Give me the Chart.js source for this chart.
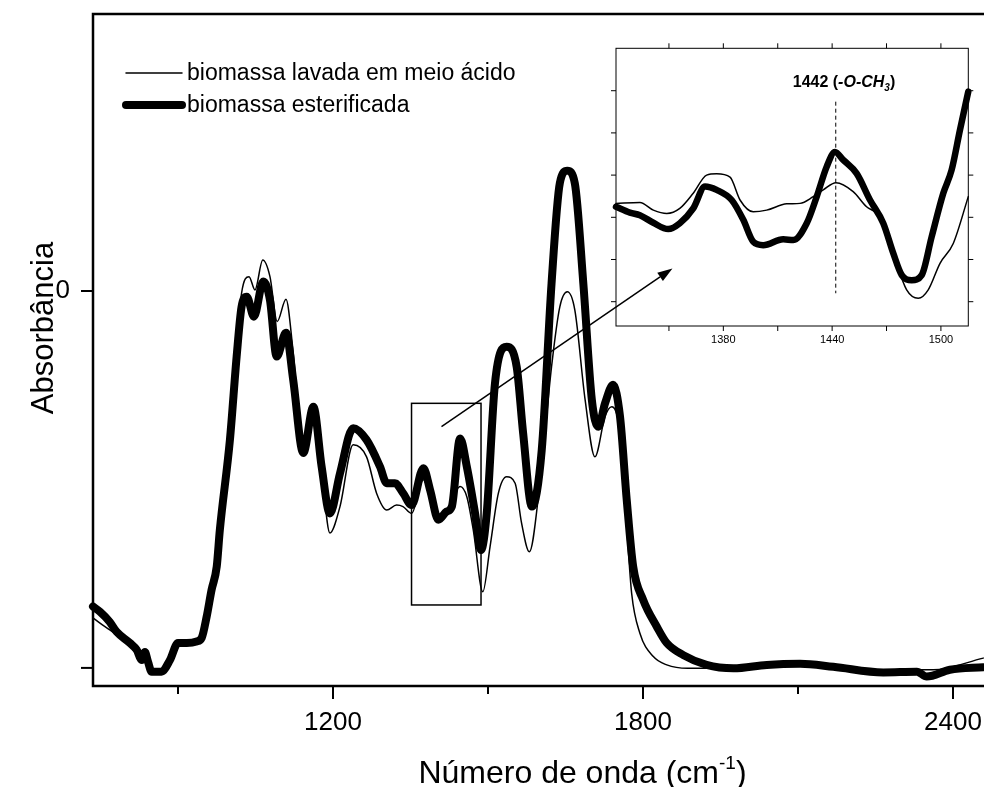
<!DOCTYPE html>
<html>
<head>
<meta charset="utf-8">
<script src="https://cdn.jsdelivr.net/npm/chart.js@4.4.1/dist/chart.umd.min.js"></script>
<style>
  html, body { margin: 0; padding: 0; background: #fff; overflow: hidden; }
  #wrap { position: relative; width: 984px; height: 787px; overflow: hidden; }
  #main { position: absolute; left: 0; top: 0; width: 1000px; height: 787px; }
  #inset { position: absolute; left: 600px; top: 30px; width: 384px; height: 320px; }
</style>
</head>
<body>
<div id="wrap">
  <canvas id="main" width="1000" height="787"></canvas>
  <canvas id="inset" width="384" height="320"></canvas>
</div>
<script>
// full spectra (wavenumber, absorbance)
const acidX = [735.5, 749, 768, 807, 830, 836, 842, 849, 868, 884.5, 900, 936, 946, 955.5, 965, 975, 981, 1000.5, 1013.5, 1023,
  1037.5, 1049, 1064, 1078, 1092, 1109, 1122.5, 1142.5, 1162, 1178, 1194, 1213.5, 1239, 1265, 1284.5, 1304, 1323, 1335.5, 1352, 1375,
  1401, 1420, 1446, 1459, 1471.5, 1490, 1504, 1520, 1536, 1552.5, 1565, 1580, 1600.5, 1623, 1639, 1653.5, 1668, 1688, 1707, 1726.5,
  1739.5, 1755.5, 1768.5, 1778, 1794, 1820, 1846, 1886.5, 1975, 2039.5, 2104, 2168.5, 2265, 2362, 2458.5];
const acidY = [-0.867, -0.881, -0.899, -0.939, -0.979, -0.966, -0.987, -1.010, -1.010, -0.979, -0.934, -0.930, -0.920, -0.864, -0.793, -0.731, -0.634, -0.395, -0.156, -0.006,
  0.038, 0.003, 0.082, 0.038, -0.081, -0.022, -0.156, -0.430, -0.307, -0.475, -0.642, -0.572, -0.408, -0.440, -0.537, -0.581, -0.568, -0.572, -0.590, -0.501,
  -0.607, -0.590, -0.519, -0.546, -0.634, -0.798, -0.678, -0.537, -0.493, -0.510, -0.616, -0.692, -0.510, -0.201, -0.042, -0.002, -0.050, -0.289, -0.440, -0.333,
  -0.307, -0.377, -0.625, -0.802, -0.908, -0.970, -0.992, -1.001, -1.001, -0.992, -0.989, -0.997, -1.005, -1.005, -0.974];

const esterX = [735.5, 749, 768, 781, 807, 820, 830, 836, 842, 849, 868, 884.5, 900, 917, 936, 946, 955.5, 965, 975, 981,
  1000.5, 1013.5, 1023, 1033, 1047, 1065, 1078, 1091, 1109, 1123, 1142.5, 1162, 1178, 1194, 1213.5, 1239, 1265, 1291, 1304, 1320,
  1336, 1352, 1375, 1388, 1404, 1420, 1430, 1446, 1459, 1475, 1486.5, 1497.5, 1513.5, 1536, 1555.5, 1568, 1585, 1604, 1623, 1639,
  1653.5, 1668, 1684.5, 1701, 1713.5, 1726.5, 1742, 1755.5, 1768.5, 1781, 1800.5, 1826.5, 1846, 1878, 1923, 1975, 2039.5, 2104, 2168.5, 2265,
  2330, 2349, 2394, 2458.5];
const esterY = [-0.837, -0.851, -0.878, -0.904, -0.934, -0.952, -0.979, -0.958, -0.984, -1.010, -1.010, -0.979, -0.934, -0.934, -0.930, -0.920, -0.864, -0.793, -0.731, -0.634,
  -0.395, -0.174, -0.042, -0.015, -0.068, 0.025, -0.024, -0.174, -0.111, -0.236, -0.430, -0.307, -0.466, -0.590, -0.484, -0.364, -0.395, -0.466, -0.510, -0.510,
  -0.537, -0.568, -0.470, -0.528, -0.607, -0.585, -0.572, -0.391, -0.466, -0.590, -0.687, -0.590, -0.245, -0.148, -0.201, -0.377, -0.572, -0.422, 0.020, 0.286,
  0.319, 0.286, 0.020, -0.289, -0.360, -0.298, -0.249, -0.333, -0.554, -0.731, -0.820, -0.890, -0.934, -0.966, -0.992, -1.001, -0.992, -0.989, -0.997, -1.012,
  -1.010, -1.023, -1.005, -0.998];

// expanded 1320-1515 region (own absorbance scale)
const zoomAcidX = [1320.8, 1334, 1341.4, 1348.8, 1356, 1363.4, 1370.8, 1376.3, 1383.7, 1389.2, 1396.5, 1403.9, 1415, 1422.3,
  1429.6, 1435.1, 1442.1, 1451.6, 1459, 1464.6, 1470.1, 1475.6, 1481.1, 1487.5, 1493, 1499.5, 1506.8, 1515.1];
const zoomAcidY = [2.33, 2.35, 2.17, 2.09, 2.21, 2.57, 3.00, 3.03, 2.95, 2.41, 2.13, 2.17, 2.32, 2.33,
  2.49, 2.65, 2.82, 2.61, 2.25, 2.09, 1.70, 0.91, 0.28, 0.08, 0.28, 0.91, 1.38, 2.49];
const zoomEsterX = [1320.8, 1328.5, 1334, 1341.4, 1349.6, 1356, 1363.4, 1369.9, 1376.3, 1384.6, 1391, 1396.5, 1402, 1413, 1418.6, 1426,
  1431.5, 1437, 1441.6, 1446.1, 1453.5, 1460.9, 1468.2, 1473.7, 1478.4, 1483.9, 1489.4, 1494.9, 1501.3, 1505.9, 1510.5, 1515.1];
const zoomEsterY = [2.25, 2.11, 2.05, 1.87, 1.72, 1.86, 2.21, 2.73, 2.65, 2.41, 1.94, 1.42, 1.34, 1.48, 1.46, 1.86,
  2.49, 3.20, 3.55, 3.36, 3.04, 2.41, 1.86, 1.15, 0.63, 0.51, 0.63, 1.54, 2.57, 3.12, 4.07, 4.98];

// axes
const majorX = [1200, 1800, 2400];
const minorX = [900, 1500, 2100];
const yTickValues = [0, -1];
const yTickLabels = ['0', ''];
const zoomTicksX = [1350, 1380, 1410, 1440, 1470, 1500];
const zoomLabelsX = [1380, 1440, 1500];
const zoomTicksY = [0, 1, 2, 3, 4, 5];

const seriesNames = ['biomassa lavada em meio ácido', 'biomassa esterificada'];
const peakPosition = 1442;
const zoomRange = { from: 1352, to: 1486.5, low: -0.833, high: -0.298 };
const arrowFrom = [1410, -0.360];
const arrowTo = [1857, 0.060];

const FONT = '"Liberation Sans", Arial, Helvetica, sans-serif';

function lineSet(xs, ys, width) {
  return {
    data: xs.map((v, i) => ({ x: v, y: ys[i] })),
    borderColor: '#000',
    borderWidth: width,
    pointRadius: 0,
    fill: false,
    cubicInterpolationMode: 'monotone',
    borderCapStyle: 'round',
    borderJoinStyle: 'round',
    clip: false
  };
}

function tick(ctx, x1, y1, x2, y2) {
  ctx.beginPath();
  ctx.moveTo(x1, y1);
  ctx.lineTo(x2, y2);
  ctx.stroke();
}

const mainDecor = {
  id: 'mainDecor',
  afterDraw(chart) {
    const { ctx, chartArea: a, scales: { x, y } } = chart;
    ctx.save();
    ctx.strokeStyle = '#000';
    ctx.fillStyle = '#000';
    ctx.lineWidth = 2.5;
    ctx.strokeRect(a.left, a.top, a.right - a.left, a.bottom - a.top);

    // bottom axis ticks and labels
    ctx.lineWidth = 2;
    majorX.forEach(v => { const px = x.getPixelForValue(v); tick(ctx, px, a.bottom, px, a.bottom + 13); });
    minorX.forEach(v => { const px = x.getPixelForValue(v); tick(ctx, px, a.bottom, px, a.bottom + 8); });
    ctx.font = '26px ' + FONT;
    ctx.textAlign = 'center';
    ctx.textBaseline = 'middle';
    majorX.forEach(v => ctx.fillText(String(v), x.getPixelForValue(v), a.bottom + 37));

    // left axis
    ctx.textAlign = 'right';
    yTickValues.forEach((v, i) => {
      const py = y.getPixelForValue(v);
      tick(ctx, a.left, py, a.left - 12, py);
      if (yTickLabels[i]) ctx.fillText(yTickLabels[i], a.left - 23, py);
    });

    // axis titles
    ctx.save();
    ctx.translate(53, 328);
    ctx.rotate(-Math.PI / 2);
    ctx.textAlign = 'center';
    ctx.textBaseline = 'alphabetic';
    ctx.font = '31px ' + FONT;
    ctx.fillText('Absorbância', 0, 0);
    ctx.restore();

    ctx.textAlign = 'left';
    ctx.textBaseline = 'alphabetic';
    const big = '32px ' + FONT, small = '19px ' + FONT;
    ctx.font = big;
    const t1 = 'Número de onda (cm';
    const w1 = ctx.measureText(t1).width;
    const w3 = ctx.measureText(')').width;
    ctx.font = small;
    const w2 = ctx.measureText('-1').width;
    let tx = (a.left + 980) / 2 - (w1 + w2 + w3) / 2 + 46;
    const base = 783;
    ctx.font = big;
    ctx.fillText(t1, tx, base);
    ctx.font = small;
    ctx.fillText('-1', tx + w1, base - 14);
    ctx.font = big;
    ctx.fillText(')', tx + w1 + w2, base);

    // zoomed region box and arrow
    ctx.lineWidth = 1.5;
    const bx1 = x.getPixelForValue(zoomRange.from), bx2 = x.getPixelForValue(zoomRange.to);
    const by1 = y.getPixelForValue(zoomRange.high), by2 = y.getPixelForValue(zoomRange.low);
    ctx.strokeRect(bx1, by1, bx2 - bx1, by2 - by1);
    const ax1 = x.getPixelForValue(arrowFrom[0]), ay1 = y.getPixelForValue(arrowFrom[1]);
    const ax2 = x.getPixelForValue(arrowTo[0]), ay2 = y.getPixelForValue(arrowTo[1]);
    const ang = Math.atan2(ay2 - ay1, ax2 - ax1);
    const hl = 15, hw = 5;
    tick(ctx, ax1, ay1, ax2 - hl * Math.cos(ang), ay2 - hl * Math.sin(ang));
    ctx.beginPath();
    ctx.moveTo(ax2, ay2);
    ctx.lineTo(ax2 - hl * Math.cos(ang) + hw * Math.sin(ang), ay2 - hl * Math.sin(ang) - hw * Math.cos(ang));
    ctx.lineTo(ax2 - hl * Math.cos(ang) - hw * Math.sin(ang), ay2 - hl * Math.sin(ang) + hw * Math.cos(ang));
    ctx.closePath();
    ctx.fill();

    // legend
    ctx.font = '23px ' + FONT;
    ctx.lineCap = 'round';
    const rows = [73, 105];
    chart.data.datasets.forEach((ds, i) => {
      ctx.lineWidth = ds.borderWidth;
      tick(ctx, 126, rows[i], 182, rows[i]);
      ctx.fillText(seriesNames[i], 187, rows[i] + 7);
    });
    ctx.restore();
  }
};

const insetDecor = {
  id: 'insetDecor',
  afterDraw(chart) {
    const { ctx, chartArea: a, scales: { x, y } } = chart;
    ctx.save();
    ctx.strokeStyle = '#000';
    ctx.fillStyle = '#000';
    ctx.lineWidth = 1;
    ctx.strokeRect(a.left, a.top, a.right - a.left, a.bottom - a.top);
    zoomTicksX.forEach(v => {
      const px = x.getPixelForValue(v);
      tick(ctx, px, a.bottom, px, a.bottom + 5);
      tick(ctx, px, a.top, px, a.top - 5);
    });
    zoomTicksY.forEach(v => {
      const py = y.getPixelForValue(v);
      tick(ctx, a.left, py, a.left - 5, py);
      tick(ctx, a.right, py, a.right + 5, py);
    });
    ctx.font = '11px ' + FONT;
    ctx.textAlign = 'center';
    ctx.textBaseline = 'middle';
    zoomLabelsX.forEach(v => ctx.fillText(String(v), x.getPixelForValue(v), a.bottom + 14));

    // marked band
    const px = x.getPixelForValue(peakPosition);
    ctx.setLineDash([4, 3]);
    tick(ctx, px, y.getPixelForValue(4.74), px, y.getPixelForValue(0.2));
    ctx.setLineDash([]);

    ctx.textAlign = 'left';
    ctx.textBaseline = 'alphabetic';
    const bold = 'bold 16px ' + FONT, ital = 'italic bold 16px ' + FONT, sub = 'italic bold 10px ' + FONT;
    const parts = [
      [String(peakPosition) + ' (', bold, 0],
      ['-O-CH', ital, 0],
      ['3', sub, 4],
      [')', bold, 0]
    ];
    let tx = px - 43;
    const base = y.getPixelForValue(5.09);
    parts.forEach(([s, f, dy]) => {
      ctx.font = f;
      ctx.fillText(s, tx, base + dy);
      tx += ctx.measureText(s).width;
    });
    ctx.restore();
  }
};

new Chart(document.getElementById('main'), {
  type: 'line',
  data: { datasets: [lineSet(acidX, acidY, 1.5), lineSet(esterX, esterY, 8)] },
  options: {
    responsive: false,
    animation: false,
    events: [],
    layout: { padding: { left: 93, top: 14, right: 10, bottom: 101 } },
    scales: {
      x: { type: 'linear', min: 735.5, max: 2471.6, display: false },
      y: { type: 'linear', min: -1.048, max: 0.735, display: false }
    },
    plugins: { legend: { display: false }, tooltip: { enabled: false } }
  },
  plugins: [mainDecor]
});

new Chart(document.getElementById('inset'), {
  type: 'line',
  data: { datasets: [lineSet(zoomAcidX, zoomAcidY, 1.5), lineSet(zoomEsterX, zoomEsterY, 6.5)] },
  options: {
    responsive: false,
    animation: false,
    events: [],
    layout: { padding: { left: 16, top: 18.3, right: 15.7, bottom: 24 } },
    scales: {
      x: { type: 'linear', min: 1320.8, max: 1515.1, display: false },
      y: { type: 'linear', min: -0.576, max: 6.005, display: false }
    },
    plugins: { legend: { display: false }, tooltip: { enabled: false } }
  },
  plugins: [insetDecor]
});
</script>
</body>
</html>
